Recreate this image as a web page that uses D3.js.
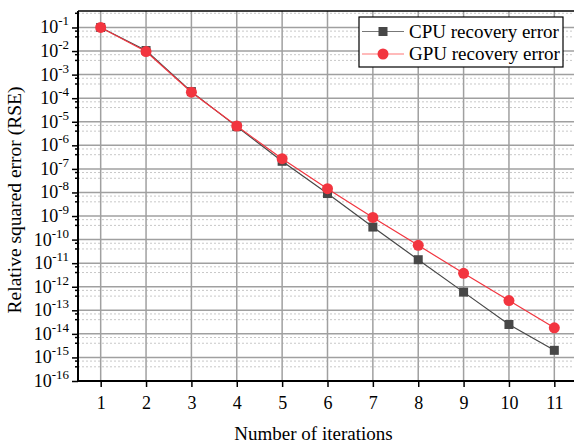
<!DOCTYPE html>
<html>
<head>
<meta charset="utf-8">
<script src="https://cdn.jsdelivr.net/npm/d3@7"></script>
<style>
  body { margin: 0; background: #fff; }
  svg { display: block; font-family: "Liberation Serif", "Times New Roman", serif; }
</style>
</head>
<body>
<div id="chart"></div>
<script>
// data
const iterations = [1, 2, 3, 4, 5, 6, 7, 8, 9, 10, 11];
const cpuError = [1e-1, 1.05e-2, 1.9e-4, 6.2e-6, 2.1e-7, 9e-9, 3.4e-10, 1.4e-11, 5.9e-13, 2.5e-14, 2.0e-15];
const gpuError = [1e-1, 9.5e-3, 1.8e-4, 6.6e-6, 2.7e-7, 1.45e-8, 8.7e-10, 5.7e-11, 3.7e-12, 2.6e-13, 1.8e-14];
const yExponents = [-1, -2, -3, -4, -5, -6, -7, -8, -9, -10, -11, -12, -13, -14, -15, -16];
const seriesNames = ['CPU recovery error', 'GPU recovery error'];

const W = 574, H = 444;
const margin = { top: 11, right: -3, bottom: 63, left: 78 };
const width = W - margin.left - margin.right;
const height = H - margin.top - margin.bottom;

const svg = d3.select('#chart').append('svg')
    .attr('width', W)
    .attr('height', H);

const g = svg.append('g')
    .attr('transform', 'translate(' + margin.left + ',' + margin.top + ')');

const x = d3.scaleLinear().domain([0.5, 11.5]).range([0, width]);
const y = d3.scaleLog().domain([1e-16, 0.5]).range([height, 0]);

// minor grid (dotted) at 4 and 7 in each decade
const minorVals = [];
for (let e = -16; e <= 0; e++) {
    [4, 7].forEach(m => {
        const v = m * Math.pow(10, e);
        if (v > 1e-16 && v < 0.5) minorVals.push(v);
    });
}
g.append('g').selectAll('line')
    .data(minorVals)
    .enter().append('line')
    .attr('x1', 0).attr('x2', width)
    .attr('y1', d => y(d)).attr('y2', d => y(d))
    .attr('stroke', '#c8c8c8')
    .attr('stroke-width', 1)
    .attr('stroke-dasharray', '2,2');

// major grid
const majorVals = yExponents.map(e => Math.pow(10, e));
g.append('g').selectAll('line')
    .data(majorVals.filter(v => v > 1e-16))
    .enter().append('line')
    .attr('x1', 0).attr('x2', width)
    .attr('y1', d => y(d)).attr('y2', d => y(d))
    .attr('stroke', '#a0a0a0')
    .attr('stroke-width', 1.5);

g.append('g').selectAll('line')
    .data(iterations)
    .enter().append('line')
    .attr('x1', d => x(d)).attr('x2', d => x(d))
    .attr('y1', 0).attr('y2', height)
    .attr('stroke', '#a0a0a0')
    .attr('stroke-width', 1.5);

// axes
const xAxis = d3.axisBottom(x).tickValues(iterations).tickSize(6).tickFormat(d3.format('d'));
const xAxisGroup = g.append('g')
    .attr('transform', 'translate(0,' + height + ')')
    .call(xAxis);
xAxisGroup.select('.domain').remove();
xAxisGroup.selectAll('.tick line').attr('stroke', '#000').attr('stroke-width', 1.5);
xAxisGroup.selectAll('.tick text')
    .attr('y', 15)
    .attr('fill', '#000')
    .style('font-size', '18px')
    .style('font-family', '"Liberation Serif", serif');

const yAxis = d3.axisLeft(y).tickValues(majorVals).tickSize(6).tickFormat('');
const yAxisGroup = g.append('g').call(yAxis);
yAxisGroup.select('.domain').remove();
yAxisGroup.selectAll('.tick line').attr('stroke', '#000').attr('stroke-width', 1.5);

// minor ticks on the y axis
g.append('g').selectAll('line')
    .data(minorVals)
    .enter().append('line')
    .attr('x1', -3).attr('x2', 0)
    .attr('y1', d => y(d)).attr('y2', d => y(d))
    .attr('stroke', '#000')
    .attr('stroke-width', 1.5);

// y tick labels 10^n
const yLabels = g.append('g').selectAll('text')
    .data(yExponents)
    .enter().append('text')
    .attr('x', -9)
    .attr('y', d => y(Math.pow(10, d)) + 6)
    .attr('text-anchor', 'end')
    .style('font-size', '18px');
yLabels.append('tspan').text('10');
yLabels.append('tspan')
    .attr('dy', -8)
    .style('font-size', '13px')
    .text(d => String(d));

// axis frame lines
g.append('line')
    .attr('x1', 0).attr('x2', width).attr('y1', height).attr('y2', height)
    .attr('stroke', '#000').attr('stroke-width', 2);
g.append('line')
    .attr('x1', 0).attr('x2', width).attr('y1', 0).attr('y2', 0)
    .attr('stroke', '#000').attr('stroke-width', 1.5);
g.append('line')
    .attr('x1', 0).attr('x2', 0).attr('y1', 0).attr('y2', height)
    .attr('stroke', '#000').attr('stroke-width', 2);

// axis titles
svg.append('text')
    .attr('x', margin.left + x(6) - 14)
    .attr('y', 440)
    .attr('text-anchor', 'middle')
    .style('font-size', '19px')
    .text('Number of iterations');

svg.append('text')
    .attr('transform', 'translate(21,' + (margin.top + height / 2 + 4) + ') rotate(-90)')
    .attr('text-anchor', 'middle')
    .style('font-size', '19.5px')
    .text('Relative squared error (RSE)');

// series
const cpuColor = '#474747';
const gpuColor = '#f2353f';
const line = d3.line()
    .x(d => x(d[0]))
    .y(d => y(d[1]));

const cpuData = iterations.map((it, i) => [it, cpuError[i]]);
const gpuData = iterations.map((it, i) => [it, gpuError[i]]);

g.append('path')
    .datum(cpuData)
    .attr('d', line)
    .attr('fill', 'none')
    .attr('stroke', cpuColor)
    .attr('stroke-width', 1.2);

g.selectAll('rect.cpu')
    .data(cpuData)
    .enter().append('rect')
    .attr('class', 'cpu')
    .attr('x', d => x(d[0]) - 4.5)
    .attr('y', d => y(d[1]) - 4.5)
    .attr('width', 9)
    .attr('height', 9)
    .attr('fill', cpuColor);

g.append('path')
    .datum(gpuData)
    .attr('d', line)
    .attr('fill', 'none')
    .attr('stroke', gpuColor)
    .attr('stroke-width', 1.2);

g.selectAll('circle.gpu')
    .data(gpuData)
    .enter().append('circle')
    .attr('class', 'gpu')
    .attr('cx', d => x(d[0]))
    .attr('cy', d => y(d[1]))
    .attr('r', 5.5)
    .attr('fill', gpuColor);

// legend
const legend = svg.append('g').attr('transform', 'translate(359,17)');
legend.append('rect')
    .attr('width', 204)
    .attr('height', 50)
    .attr('fill', '#fff')
    .attr('stroke', '#000')
    .attr('stroke-width', 1.2);

const legendRows = legend.selectAll('g.row')
    .data(seriesNames)
    .enter().append('g')
    .attr('class', 'row')
    .attr('transform', (d, i) => 'translate(0,' + (14.5 + i * 22.5) + ')');

legendRows.append('line')
    .attr('x1', 3).attr('x2', 45)
    .attr('stroke', (d, i) => i === 0 ? '#777' : '#f77')
    .attr('stroke-width', 1.2);

legendRows.filter((d, i) => i === 0).append('rect')
    .attr('x', 24 - 4.5).attr('y', -4.5)
    .attr('width', 9).attr('height', 9)
    .attr('fill', cpuColor);

legendRows.filter((d, i) => i === 1).append('circle')
    .attr('cx', 24).attr('r', 5.5)
    .attr('fill', gpuColor);

legendRows.append('text')
    .attr('x', 50)
    .attr('y', 6)
    .style('font-size', '19px')
    .text(d => d);
</script>
</body>
</html>
